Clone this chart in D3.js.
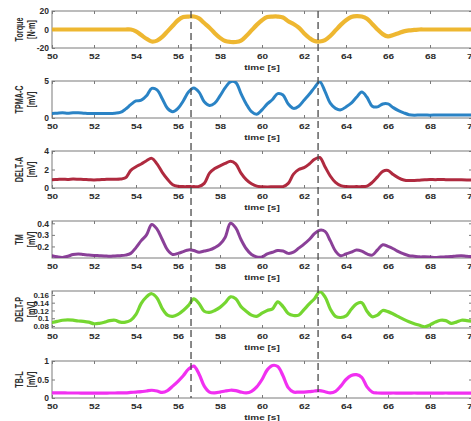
<!DOCTYPE html>
<html>
<head>
<meta charset="utf-8">
<script src="https://cdn.jsdelivr.net/npm/d3@7"></script>
<style>
  html, body { margin: 0; padding: 0; background: #fff; overflow: hidden; }
  svg text { font-family: "Liberation Sans", Arial, sans-serif; font-weight: bold; fill: #2b2b2b; }
</style>
</head>
<body>
<svg id="chart" width="471" height="421"></svg>
<script>
// sample times [s], 0.25 s apart
const time = d3.range(81).map(i => 50 + i * 0.25);

// Torque [N·m]
const torque = [
  0, 0, 0, 0, 0, 0, 0, 0, 0, 0, 0, 0, 0, 0, 0, 0,
  -2, -6, -10, -13, -12, -8, -2, 4, 10, 13.5, 14, 14, 12, 7, 2, -4,
  -9, -12.5, -13.5, -13.5, -12, -7, -1, 5, 10, 13.5, 14, 14, 13, 9, 6, 2,
  -4, -9, -12.5, -13, -11.5, -7, -1, 5, 10, 13.5, 14.5, 14, 11.5, 6, 0, -5,
  -7.5, -6, -4, -2, -1, -0.5,
  0, 0, 0, 0, 0, 0, 0, 0, 0, 0, 0
];

// TPMA-C [mV]
const tpmaC = [
  0.6, 0.65, 0.7, 0.65, 0.7, 0.7, 0.65, 0.6, 0.6, 0.6, 0.62, 0.6, 0.65, 0.75, 1.2, 1.8,
  2.3, 2.4, 3.0, 4.0, 3.8, 2.6, 1.3, 0.85, 1.3, 2.3, 3.5, 4.05, 3.5, 2.2, 1.7, 2.0,
  3.0, 4.1, 4.9, 4.8, 3.3, 1.9, 0.85, 0.5, 1.1, 1.9, 2.5, 3.3, 3.1, 1.9, 1.3, 1.6,
  2.4, 3.2, 4.1, 4.9, 3.6, 2.0, 1.3, 1.1, 1.5, 2.0, 2.8, 3.5, 2.8, 1.6, 1.5, 1.9,
  1.9, 1.4, 1.0, 0.7, 0.45, 0.38,
  0.4, 0.4, 0.38, 0.4, 0.42, 0.4, 0.4, 0.42, 0.4, 0.42, 0.4
];

// DELT-A [mV]
const deltA = [
  0.9, 0.92, 0.95, 0.93, 0.97, 0.95, 0.92, 0.9, 0.87, 0.9, 0.92, 0.95, 0.95, 0.97, 1.1, 1.9,
  2.3, 2.6, 2.95, 3.2, 2.6, 1.7, 0.95, 0.35, 0.18, 0.15, 0.15, 0.15, 0.17, 0.5, 1.6, 2.1,
  2.4, 2.65, 2.9, 2.6, 1.6, 0.9, 0.45, 0.2, 0.14, 0.12, 0.13, 0.14, 0.15, 0.5, 1.5, 2.0,
  2.2, 2.6, 3.1, 3.3, 2.3, 1.3, 0.6, 0.25, 0.15, 0.14, 0.15, 0.15, 0.2, 0.6, 1.2, 1.8,
  1.9, 1.45, 1.1, 0.87, 0.8, 0.82,
  0.85, 0.88, 0.92, 0.9, 0.92, 0.9, 0.88, 0.9, 0.88, 0.87, 0.88
];

// TM [mV]
const tm = [
  0.12, 0.11, 0.105, 0.115, 0.13, 0.135, 0.13, 0.125, 0.122, 0.12, 0.118, 0.115, 0.118, 0.12, 0.125, 0.14,
  0.19, 0.25, 0.3, 0.39, 0.35, 0.26, 0.17, 0.13, 0.14, 0.155, 0.17, 0.165, 0.15, 0.16, 0.17, 0.19,
  0.22, 0.28, 0.4, 0.36, 0.26, 0.18, 0.13, 0.11, 0.11, 0.135, 0.15, 0.165, 0.16, 0.14, 0.15, 0.185,
  0.22, 0.26, 0.31, 0.34, 0.33, 0.25, 0.16, 0.12, 0.135, 0.15, 0.17, 0.16, 0.135, 0.125, 0.17, 0.215,
  0.2, 0.18, 0.155, 0.135, 0.12, 0.115,
  0.11, 0.11, 0.108, 0.105, 0.108, 0.11, 0.112, 0.118, 0.12, 0.115, 0.112
];

// DELT-P [mV]
const deltP = [
  0.089, 0.092, 0.095, 0.096, 0.095, 0.093, 0.092, 0.09, 0.086, 0.087, 0.09, 0.094, 0.095, 0.09, 0.09, 0.095,
  0.11, 0.138, 0.155, 0.163, 0.152, 0.125, 0.108, 0.105, 0.11, 0.12, 0.133, 0.15, 0.138, 0.118, 0.115, 0.12,
  0.128, 0.14, 0.155, 0.15, 0.13, 0.118, 0.108, 0.105, 0.113, 0.12, 0.124, 0.142, 0.13, 0.112, 0.107, 0.108,
  0.122, 0.137, 0.15, 0.168, 0.155, 0.124, 0.105, 0.102, 0.106, 0.123, 0.137, 0.14, 0.118, 0.104, 0.108, 0.12,
  0.117, 0.111, 0.104, 0.097, 0.091, 0.086,
  0.082, 0.078, 0.083, 0.09, 0.095, 0.094, 0.087, 0.09, 0.095, 0.094, 0.092
];

// TB-L [mV]
const tbL = [
  0.14, 0.14, 0.14, 0.135, 0.135, 0.135, 0.13, 0.13, 0.13, 0.13, 0.13, 0.135, 0.135, 0.14, 0.14, 0.15,
  0.16, 0.17, 0.19, 0.21, 0.19, 0.15, 0.2, 0.32, 0.45, 0.6, 0.78, 0.86, 0.65, 0.32, 0.16, 0.14,
  0.16, 0.19, 0.21, 0.2, 0.16, 0.14, 0.18, 0.3, 0.5, 0.76, 0.88, 0.85, 0.6, 0.28, 0.16, 0.16,
  0.16, 0.17, 0.19, 0.2, 0.17, 0.14, 0.18, 0.32, 0.5, 0.61, 0.63, 0.56, 0.3, 0.16, 0.135, 0.13,
  0.13, 0.135, 0.13, 0.13, 0.13, 0.135,
  0.13, 0.13, 0.13, 0.13, 0.13, 0.135, 0.13, 0.13, 0.13, 0.13, 0.13
];

const seriesValues = [torque, tpmaC, deltA, tm, deltP, tbL];
const labelNames = ["Torque", "TPMA-C", "DELT-A", "TM", "DELT-P", "TB-L"];
const labelUnits = ["[N·m]", "[mV]", "[mV]", "[mV]", "[mV]", "[mV]"];
const yDomains = [[-20, 20], [0, 5], [0, 4], [0.1, 0.42], [0.075, 0.17], [0, 1]];
const yTicks = [[-20, 0, 20], [0, 5], [0, 2, 4], [0.2, 0.3, 0.4], [0.08, 0.1, 0.12, 0.14, 0.16], [0, 0.5, 1]];
const xTicks = [50, 52, 54, 56, 58, 60, 62, 64, 66, 68, 70];
const eventTimes = [56.62, 62.67];

// styles / layout
const COLORS = ["#EDB120", "#1878C0", "#A8182F", "#80308F", "#69D21F", "#F01EF0"];
const WIDTHS = [4.2, 3, 3, 3, 3.2, 3.2];
const LAYOUT = { left: 52, right: 472, top: 11, pitch: 70, height: 37 };
const AXIS_COLOR = "#7a7a7a";

const svg = d3.select("#chart");
const x = d3.scaleLinear().domain([50, 70]).range([LAYOUT.left, LAYOUT.right]);

seriesValues.forEach((vals, i) => {
  const top = LAYOUT.top + i * LAYOUT.pitch;
  const bottom = top + LAYOUT.height;
  const y = d3.scaleLinear().domain(yDomains[i]).range([bottom, top]);
  const g = svg.append("g");

  g.append("clipPath").attr("id", "clip" + i)
    .append("rect")
    .attr("x", LAYOUT.left).attr("y", top)
    .attr("width", LAYOUT.right - LAYOUT.left).attr("height", LAYOUT.height);

  // bottom axis with labels
  const xb = g.append("g").attr("transform", `translate(0,${bottom})`)
    .call(d3.axisBottom(x).tickValues(xTicks).tickSize(-3).tickSizeOuter(0).tickFormat(d => d));
  xb.select(".domain").remove();
  xb.selectAll("line").attr("stroke", AXIS_COLOR);
  xb.selectAll("text")
    .attr("y", null).attr("dy", null)
    .attr("font-size", 10)
    .attr("transform", "translate(0,10.5) scale(1,0.8)");

  // top ticks
  const xt = g.append("g").attr("transform", `translate(0,${top})`)
    .call(d3.axisTop(x).tickValues(xTicks).tickSize(-3).tickSizeOuter(0).tickFormat(""));
  xt.select(".domain").remove();
  xt.selectAll("line").attr("stroke", AXIS_COLOR);

  // left axis
  const ya = g.append("g").attr("transform", `translate(${LAYOUT.left},0)`)
    .call(d3.axisLeft(y).tickValues(yTicks[i]).tickSize(-3).tickSizeOuter(0).tickPadding(3).tickFormat(d => String(d)));
  ya.select(".domain").remove();
  ya.selectAll("line").attr("stroke", AXIS_COLOR);
  ya.selectAll("text").attr("font-size", i === 4 ? 8 : 8.5).attr("fill", "#2b2b2b");

  // right ticks
  const yr = g.append("g").attr("transform", `translate(${LAYOUT.right},0)`)
    .call(d3.axisRight(y).tickValues(yTicks[i]).tickSize(-3).tickSizeOuter(0).tickFormat(""));
  yr.select(".domain").remove();
  yr.selectAll("line").attr("stroke", AXIS_COLOR);

  // box
  g.append("rect")
    .attr("x", LAYOUT.left).attr("y", top)
    .attr("width", LAYOUT.right - LAYOUT.left).attr("height", LAYOUT.height)
    .attr("fill", "none").attr("stroke", AXIS_COLOR).attr("stroke-width", 1);

  // series
  const line = d3.line()
    .x((d, k) => x(time[k]))
    .y(d => y(d))
    .curve(d3.curveCatmullRom.alpha(0.5));
  g.append("path")
    .datum(vals)
    .attr("clip-path", `url(#clip${i})`)
    .attr("d", line)
    .attr("fill", "none")
    .attr("stroke", COLORS[i])
    .attr("stroke-width", WIDTHS[i])
    .attr("stroke-linejoin", "round")
    .attr("stroke-linecap", "round")
    .attr("opacity", 0.92);

  // y label, two lines
  const mid = (top + bottom) / 2;
  g.append("text")
    .attr("transform", `translate(22.5,${mid}) rotate(-90) scale(0.72,1)`)
    .attr("text-anchor", "middle")
    .attr("font-size", 10)
    .text(labelNames[i]);
  g.append("text")
    .attr("transform", `translate(35,${mid}) rotate(-90) scale(0.72,1)`)
    .attr("text-anchor", "middle")
    .attr("font-size", 10)
    .text(labelUnits[i]);

  // x label
  g.append("text")
    .attr("transform", `translate(${(LAYOUT.left + LAYOUT.right) / 2},${bottom + 21.5}) scale(1,0.8)`)
    .attr("text-anchor", "middle")
    .attr("font-size", 10)
    .text("time [s]");
});

// dashed event markers across all panels
const lastBottom = LAYOUT.top + 5 * LAYOUT.pitch + LAYOUT.height;
svg.selectAll("line.event")
  .data(eventTimes)
  .enter()
  .append("line")
  .attr("class", "event")
  .attr("x1", d => x(d)).attr("x2", d => x(d))
  .attr("y1", LAYOUT.top).attr("y2", lastBottom)
  .attr("stroke", "#4a4a4a")
  .attr("stroke-width", 1.3)
  .attr("stroke-dasharray", "7,4");
</script>
</body>
</html>
